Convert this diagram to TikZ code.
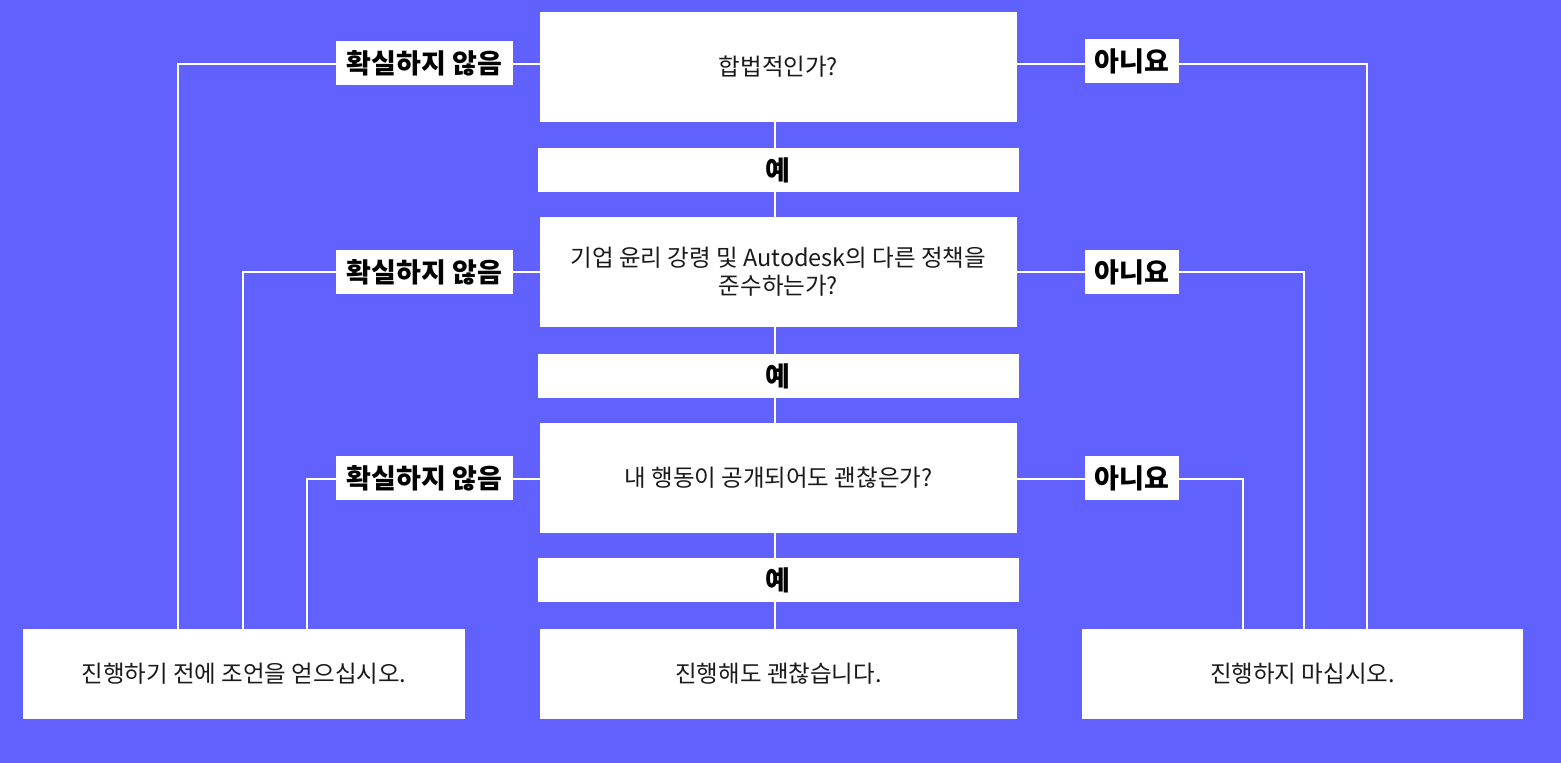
\documentclass[tikz,border=0pt]{standalone}
\usepackage{fontspec}
\setmainfont{Noto Sans CJK KR}
\pgfdeclarelayer{bg}
\pgfdeclarelayer{lines}
\pgfsetlayers{bg,lines,main}
\definecolor{bgblue}{HTML}{6161FF}
\definecolor{ink}{HTML}{1A1A1A}
\begin{document}
\begin{tikzpicture}[x=1pt,y=-1pt,
  qbox/.style={fill=white,draw=none,minimum width=477pt,minimum height=110pt,inner sep=0pt,align=center,font=\fontsize{23.5}{28}\selectfont,text=ink},
  endbox/.style={qbox,minimum height=90pt},
  yesbox/.style={fill=white,draw=none,minimum width=481pt,minimum height=44pt,inner sep=0pt,font=\fontsize{27}{30}\selectfont\bfseries,text=black},
  lbl/.style={fill=white,draw=none,minimum height=44pt,inner sep=0pt,font=\fontsize{27}{30}\selectfont\bfseries,text=black},
  conn/.style={draw=white,line width=2pt}
]
\begin{pgfonlayer}{bg}
\fill[bgblue] (0,0) rectangle (1561,763);
\end{pgfonlayer}
\useasboundingbox (0,0) rectangle (1561,763);

\node[qbox] (q1) at (778.5,67) {합법적인가?};
\node[yesbox] (y1) at (778,170) {예};
\node[qbox] (q2) at (778.5,272) {기업 윤리 강령 및 Autodesk의 다른 정책을\\준수하는가?};
\node[yesbox] (y2) at (778,376) {예};
\node[qbox] (q3) at (778.5,478) {내 행동이 공개되어도 괜찮은가?};
\node[yesbox] (y3) at (778,580) {예};
\node[endbox] (ok) at (778.5,674) {진행해도 괜찮습니다.};
\node[endbox,minimum width=442pt] (adv) at (244,674) {진행하기 전에 조언을 얻으십시오.};
\node[endbox,minimum width=441pt] (stop) at (1302.5,674) {진행하지 마십시오.};

\node[lbl,minimum width=177pt] (u1) at (424.5,63) {확실하지 않음};
\node[lbl,minimum width=177pt] (u2) at (424.5,272) {확실하지 않음};
\node[lbl,minimum width=177pt] (u3) at (424.5,478) {확실하지 않음};
\node[lbl,minimum width=94pt] (n1) at (1132,61) {아니요};
\node[lbl,minimum width=94pt] (n2) at (1132,272) {아니요};
\node[lbl,minimum width=94pt] (n3) at (1132,478) {아니요};

\coordinate (kl1) at (178,64);
\coordinate (kl2) at (243,272);
\coordinate (kl3) at (307,479);
\coordinate (kr1) at (1367,64);
\coordinate (kr2) at (1304,272);
\coordinate (kr3) at (1243,479);
\coordinate (mid) at (775,0);

\begin{pgfonlayer}{lines}
\draw[conn] (q1.south -| mid) -- (q2.north -| mid);
\draw[conn] (q2.south -| mid) -- (q3.north -| mid);
\draw[conn] (q3.south -| mid) -- (ok.north -| mid);
\draw[conn] (q1.west |- kl1) -- (kl1) -- (kl1 |- adv.north);
\draw[conn] (q2.west |- kl2) -- (kl2) -- (kl2 |- adv.north);
\draw[conn] (q3.west |- kl3) -- (kl3) -- (kl3 |- adv.north);
\draw[conn] (q1.east |- kr1) -- (kr1) -- (kr1 |- stop.north);
\draw[conn] (q2.east |- kr2) -- (kr2) -- (kr2 |- stop.north);
\draw[conn] (q3.east |- kr3) -- (kr3) -- (kr3 |- stop.north);
\end{pgfonlayer}
\end{tikzpicture}
\end{document}
